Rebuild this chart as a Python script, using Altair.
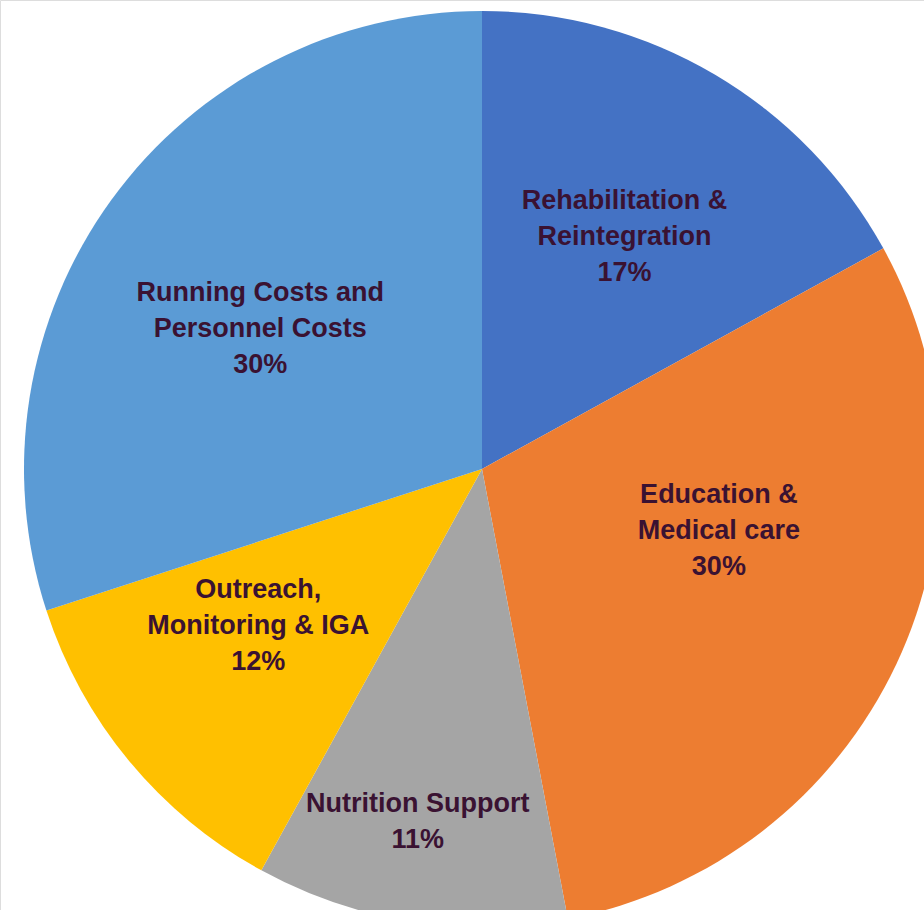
import altair as alt
import pandas as pd
import math

categories = ["Rehabilitation & Reintegration", "Education & Medical care",
              "Nutrition Support", "Outreach, Monitoring & IGA",
              "Running Costs and Personnel Costs"]
label_lines = [["Rehabilitation &", "Reintegration", "17%"],
               ["Education &", "Medical care", "30%"],
               ["Nutrition Support", "11%"],
               ["Outreach,", "Monitoring & IGA", "12%"],
               ["Running Costs and", "Personnel Costs", "30%"]]
shares = [17, 30, 11, 12, 30]
colors = ["#4472C4", "#ED7D31", "#A5A5A5", "#FFC000", "#5B9BD5"]

df = pd.DataFrame({
    "category": categories,
    "share": shares,
    "idx": list(range(len(categories))),
    "label": label_lines,
})

CX, CY, R = 482, 469, 458

theta_scale = alt.Scale(domain=[0, 1], range=[0, 2 * math.pi])

base = alt.Chart(df).transform_joinaggregate(
    total="sum(share)"
).transform_window(
    s1="sum(share)", sort=[alt.SortField("idx")], frame=[None, 0]
).transform_calculate(
    f0="(datum.s1 - datum.share) / datum.total",
    f1="datum.s1 / datum.total",
    fm="(datum.s1 - datum.share / 2) / datum.total",
).encode(
    x=alt.value(CX),
    y=alt.value(CY),
)

pie = base.mark_arc(radius=R).encode(
    theta=alt.Theta("f0:Q", scale=theta_scale),
    theta2="f1:Q",
    color=alt.Color("category:N", scale=alt.Scale(domain=categories, range=colors), legend=None),
)

# label placement per slice: (radius, dx, dy)
placement = {
    categories[0]: (274, 3, -32),
    categories[1]: (243, 17, -77),
    categories[2]: (359, -8, -20),
    categories[3]: (276, -11, -55),
    categories[4]: (263, -9, -21),
}

layers = [pie]
for cat, (rad, dx, dy) in placement.items():
    layers.append(
        base.transform_filter(alt.datum.category == cat)
        .mark_text(radius=rad, dx=dx, dy=dy, font="Liberation Sans", fontWeight="bold",
                   fontSize=27, lineHeight=36, color="#3a1232", align="center",
                   baseline="middle")
        .encode(theta=alt.Theta("fm:Q", scale=theta_scale), text="label")
    )

chart = alt.layer(*layers).properties(
    width=924, height=910, padding=0,
    autosize=alt.AutoSizeParams(type="none"),
).configure_view(stroke=None).configure(background="white")

chart.save("out.html", embed_options={"renderer": "svg", "actions": False})
